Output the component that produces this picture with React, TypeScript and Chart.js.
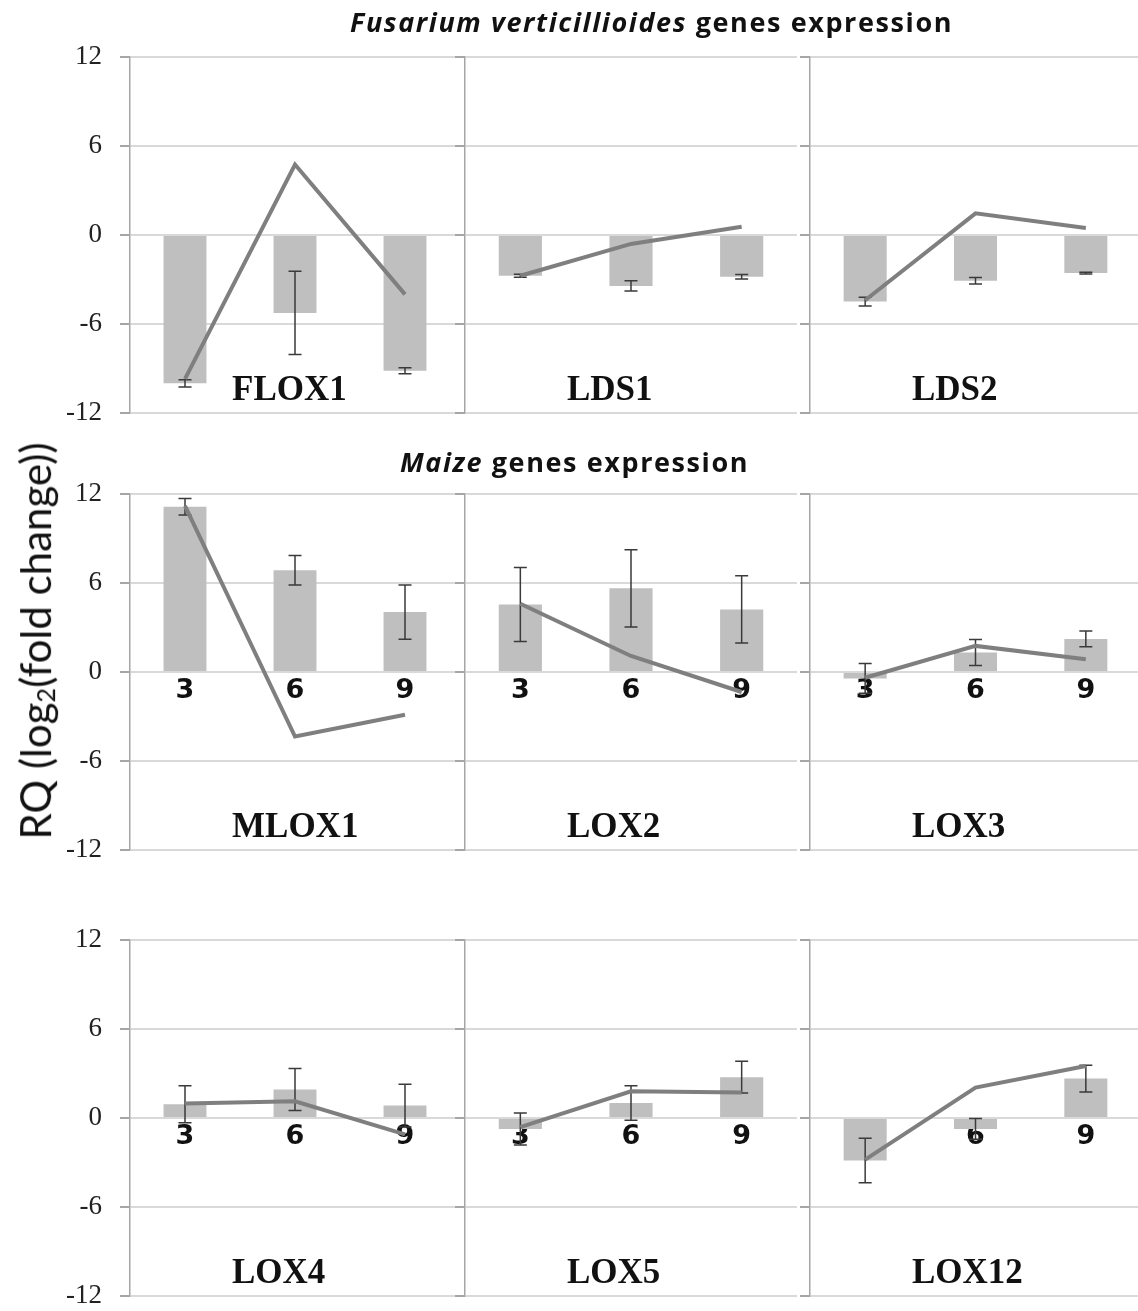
import React, { useEffect, useRef } from "react";
import { Chart, registerables } from "chart.js";

Chart.register(...registerables);

// ---- data ----
const categories = ["3", "6", "9"];
const geneNames = ["FLOX1", "LDS1", "LDS2", "MLOX1", "LOX2", "LOX3", "LOX4", "LOX5", "LOX12"];
const yTicks = [-12, -6, 0, 6, 12];

const barFLOX1 = [-10.0, -5.25, -9.15];
const errFLOX1 = [0.25, 2.8, 0.2];
const lineFLOX1 = [-9.7, 4.75, -4.0];

const barLDS1 = [-2.75, -3.43, -2.82];
const errLDS1 = [0.1, 0.35, 0.15];
const lineLDS1 = [-2.75, -0.6, 0.56];

const barLDS2 = [-4.49, -3.09, -2.57];
const errLDS2 = [0.3, 0.22, 0.06];
const lineLDS2 = [-4.4, 1.46, 0.47];

const barMLOX1 = [11.14, 6.86, 4.04];
const errMLOX1 = [0.55, 1.0, 1.83];
const lineMLOX1 = [11.2, -4.35, -2.88];

const barLOX2 = [4.55, 5.64, 4.22];
const errLOX2 = [2.5, 2.6, 2.27];
const lineLOX2 = [4.6, 1.08, -1.35];

const barLOX3 = [-0.43, 1.31, 2.23];
const errLOX3 = [1.0, 0.88, 0.53];
const lineLOX3 = [-0.39, 1.76, 0.86];

const barLOX4 = [0.93, 1.92, 0.84];
const errLOX4 = [1.25, 1.42, 1.44];
const lineLOX4 = [0.97, 1.13, -1.1];

const barLOX5 = [-0.74, 1.01, 2.75];
const errLOX5 = [1.08, 1.16, 1.07];
const lineLOX5 = [-0.61, 1.8, 1.72];

const barLOX12 = [-2.86, -0.74, 2.66];
const errLOX12 = [1.5, 0.7, 0.9];
const lineLOX12 = [-2.81, 2.05, 3.51];

const barSeries = [barFLOX1, barLDS1, barLDS2, barMLOX1, barLOX2, barLOX3, barLOX4, barLOX5, barLOX12];
const errSeries = [errFLOX1, errLDS1, errLDS2, errMLOX1, errLOX2, errLOX3, errLOX4, errLOX5, errLOX12];
const lineSeries = [lineFLOX1, lineLDS1, lineLDS2, lineMLOX1, lineLOX2, lineLOX3, lineLOX4, lineLOX5, lineLOX12];

// ---- layout ----
const COL_AXIS = [130, 465, 810];
const COL_RIGHT = [460, 797, 1141];
const ROW_TOP = [57, 494, 940];
const PLOT_H = 356;
const PAD = 20;

const decoPlugin = {
  id: "panelDeco",
  beforeDatasetsDraw(chart: any, _args: any, opts: any) {
    const { ctx, chartArea } = chart;
    const x = chart.scales.x;
    const y = chart.scales.y;
    ctx.save();
    ctx.fillStyle = "#111111";
    ctx.font = 'bold 27px "DejaVu Sans"';
    ctx.textAlign = "center";
    ctx.textBaseline = "alphabetic";
    const y0 = y.getPixelForValue(0);
    categories.forEach((c, i) => {
      ctx.fillText(c, x.getPixelForValue(i), y0 + 26);
    });
    ctx.font = 'bold 35px "Liberation Serif"';
    ctx.textAlign = "left";
    ctx.fillText(opts.gene, chartArea.left + 102, chartArea.bottom - 13);
    ctx.restore();
  },
  afterDatasetDraw(chart: any, args: any, opts: any) {
    if (args.index !== 0) return;
    const { ctx } = chart;
    const y = chart.scales.y;
    const meta = chart.getDatasetMeta(0);
    const vals: number[] = chart.data.datasets[0].data;
    const errs: number[] = opts.err;
    ctx.save();
    ctx.strokeStyle = "#3a3a3a";
    ctx.lineWidth = 1.5;
    meta.data.forEach((el: any, i: number) => {
      const top = y.getPixelForValue(vals[i] + errs[i]);
      const bot = y.getPixelForValue(vals[i] - errs[i]);
      const cx = el.x;
      ctx.beginPath();
      ctx.moveTo(cx, top);
      ctx.lineTo(cx, bot);
      ctx.moveTo(cx - 6.5, top);
      ctx.lineTo(cx + 6.5, top);
      ctx.moveTo(cx - 6.5, bot);
      ctx.lineTo(cx + 6.5, bot);
      ctx.stroke();
    });
    ctx.restore();
  },
};

function Panel({ idx }: { idx: number }) {
  const ref = useRef<HTMLCanvasElement | null>(null);
  const r = Math.floor(idx / 3);
  const c = idx % 3;
  const yW = c === 0 ? 130 : 14;
  const left = COL_AXIS[c] - yW;
  const width = COL_RIGHT[c] - left;
  const top = ROW_TOP[r] - PAD;
  const height = PLOT_H + PAD * 2;

  useEffect(() => {
    if (!ref.current) return;
    const chart = new Chart(ref.current, {
      type: "bar",
      data: {
        labels: categories,
        datasets: [
          {
            type: "bar",
            data: barSeries[idx],
            backgroundColor: "#bfbfbf",
            barPercentage: 0.39,
            categoryPercentage: 1,
            order: 2,
          } as any,
          {
            type: "line",
            data: lineSeries[idx],
            borderColor: "#7f7f7f",
            borderWidth: 4,
            pointRadius: 0,
            tension: 0,
            fill: false,
            order: 1,
          } as any,
        ],
      },
      options: {
        responsive: false,
        maintainAspectRatio: false,
        animation: false,
        layout: { padding: { top: PAD, bottom: PAD, left: 0, right: 0 } },
        plugins: {
          legend: { display: false },
          tooltip: { enabled: false },
          panelDeco: { gene: geneNames[idx], err: errSeries[idx] },
        } as any,
        scales: {
          x: {
            display: false,
            offset: true,
            grid: { display: false },
          },
          y: {
            min: yTicks[0],
            max: yTicks[yTicks.length - 1],
            afterBuildTicks: (scale: any) => {
              scale.ticks = yTicks.map((v) => ({ value: v }));
            },
            afterFit: (scale: any) => {
              scale.width = yW;
              scale.paddingTop = 0;
              scale.paddingBottom = 0;
            },
            ticks: {
              display: c === 0,
              color: "#222222",
              padding: 18,
              font: { family: '"Liberation Serif"', size: 27 },
            },
            grid: {
              color: "#d9d9d9",
              lineWidth: 2,
              tickLength: 10,
              tickColor: "#a6a6a6",
              drawTicks: true,
            },
            border: { display: true, color: "#a6a6a6", width: 1.5 },
          },
        },
      },
      plugins: [decoPlugin],
    });
    return () => chart.destroy();
  }, [idx]);

  return (
    <canvas
      ref={ref}
      width={width}
      height={height}
      style={{ position: "absolute", left, top, width, height }}
    />
  );
}

const titleStyle: React.CSSProperties = {
  position: "absolute",
  font: 'bold 27px "Open Sans"',
  letterSpacing: "1.6px",
  lineHeight: "30px",
  color: "#111",
  whiteSpace: "nowrap",
};

export default function App() {
  return (
    <div
      style={{
        position: "absolute",
        left: 0,
        top: 0,
        width: 1138,
        height: 1311,
        overflow: "hidden",
        background: "#ffffff",
      }}
    >
      {geneNames.map((g, i) => (
        <Panel key={g} idx={i} />
      ))}
      <div style={{ ...titleStyle, left: 350, top: 7 }}>
        <i>Fusarium verticillioides</i> genes expression
      </div>
      <div style={{ ...titleStyle, left: 400, top: 447 }}>
        <i>Maize</i> genes expression
      </div>
      <div
        style={{
          position: "absolute",
          left: 40,
          top: 641,
          transform: "translate(-50%, -50%) rotate(-90deg)",
          font: "42px Lato",
          lineHeight: "44px",
          color: "#111",
          whiteSpace: "nowrap",
        }}
      >
        RQ (log<sub style={{ fontSize: "0.6em", verticalAlign: "-0.15em" }}>2</sub>(fold change))
      </div>
    </div>
  );
}
